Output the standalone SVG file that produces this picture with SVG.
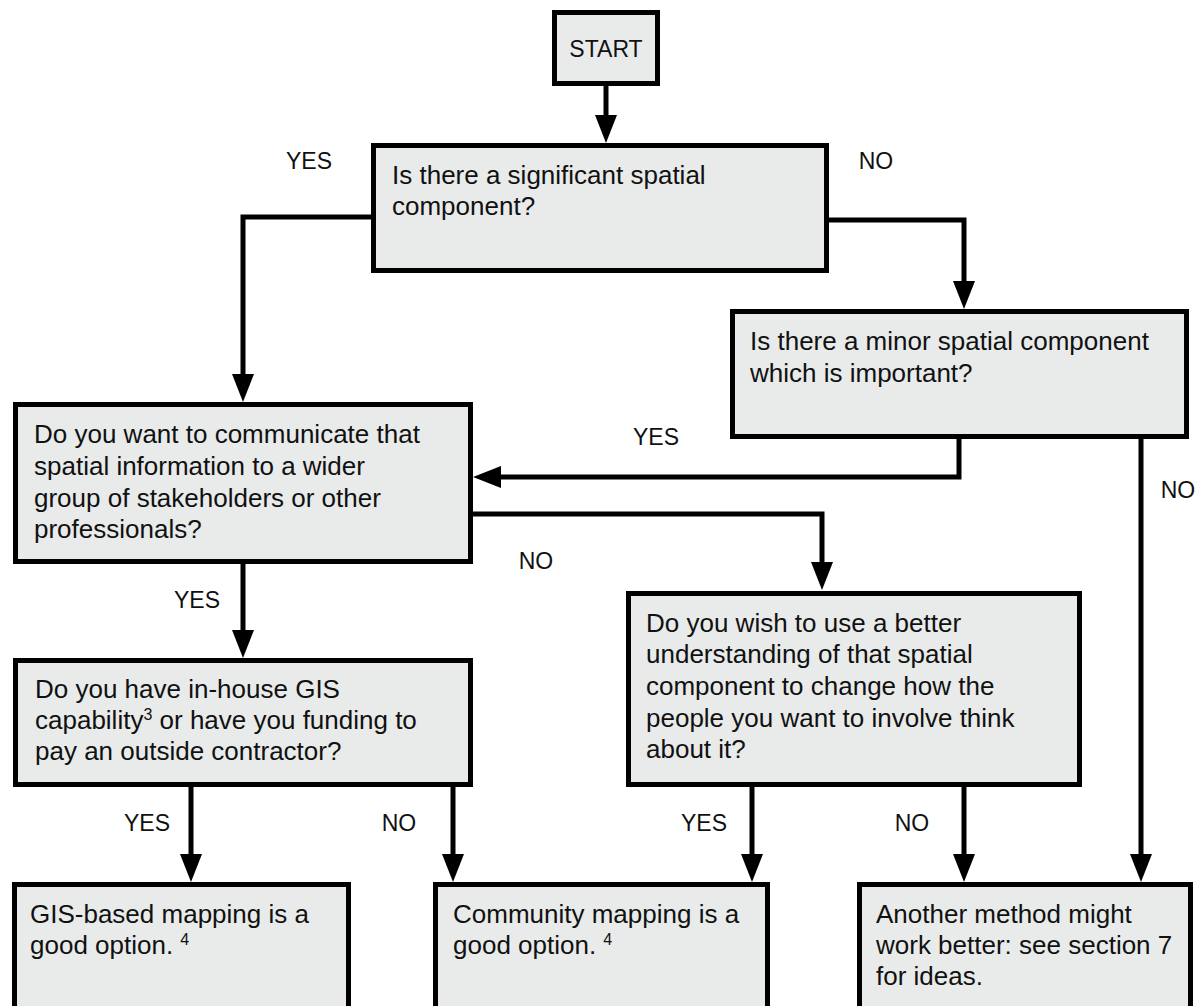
<svg xmlns="http://www.w3.org/2000/svg" width="1200" height="1006" viewBox="0 0 1200 1006">
<defs>
<style>
.box{fill:#E8EBEA;stroke:#000;stroke-width:5}
.t{font-family:"Liberation Sans",Arial,sans-serif;font-size:26px;fill:#111}
.lbl{font-family:"Liberation Sans",Arial,sans-serif;font-size:23px;fill:#111;text-anchor:middle}
.c{fill:none;stroke:#000;stroke-width:5;marker-end:url(#ah)}
.sup{font-size:16px}
</style>
<marker id="ah" markerUnits="userSpaceOnUse" markerWidth="28" markerHeight="22" refX="18" refY="11" orient="auto">
<path d="M0,0 L28,11 L0,22 z" fill="#000"/>
</marker>
</defs>
<rect width="1200" height="1006" fill="#fff"/>
<g id="connectors">
<path class="c" d="M606,86 V133"/>
<path class="c" d="M371,217 H243 V392"/>
<path class="c" d="M829,220 H964 V299"/>
<path class="c" d="M959,439 V477 H483"/>
<path class="c" d="M1141,439 V872"/>
<path class="c" d="M473,514 H822 V580"/>
<path class="c" d="M243,564 V648"/>
<path class="c" d="M191,787 V872"/>
<path class="c" d="M453,787 V872"/>
<path class="c" d="M752,787 V872"/>
<path class="c" d="M964,787 V872"/>
<text class="lbl" x="309" y="169">YES</text>
<text class="lbl" x="876" y="169">NO</text>
<text class="lbl" x="656" y="445">YES</text>
<text class="lbl" x="1178" y="498">NO</text>
<text class="lbl" x="536" y="569">NO</text>
<text class="lbl" x="197" y="608">YES</text>
<text class="lbl" x="147" y="831">YES</text>
<text class="lbl" x="399" y="831">NO</text>
<text class="lbl" x="704" y="831">YES</text>
<text class="lbl" x="912" y="831">NO</text>
</g>
<g id="start">
<rect class="box" x="554.5" y="12.5" width="103" height="71"/>
<text class="lbl" x="606" y="57">START</text>
</g>
<g id="significant">
<rect class="box" x="373.5" y="145.5" width="453" height="125"/>
<text class="t" x="392" y="184">Is there a significant spatial</text>
<text class="t" x="392" y="215">component?</text>
</g>
<g id="minor">
<rect class="box" x="732.5" y="311.5" width="454" height="125"/>
<text class="t" x="750" y="350">Is there a minor spatial component</text>
<text class="t" x="750" y="382">which is important?</text>
</g>
<g id="communicate">
<rect class="box" x="15.5" y="404.5" width="455" height="157"/>
<text class="t" x="34" y="443">Do you want to communicate that</text>
<text class="t" x="34" y="475">spatial information to a wider</text>
<text class="t" x="34" y="507">group of stakeholders or other</text>
<text class="t" x="34" y="538">professionals?</text>
</g>
<g id="gis-capability">
<rect class="box" x="15.5" y="660.5" width="455" height="124"/>
<text class="t" x="35" y="698">Do you have in-house GIS</text>
<text class="t" x="35" y="729">capability<tspan class="sup" dy="-9">3</tspan><tspan dy="9"> or have you funding to</tspan></text>
<text class="t" x="35" y="760">pay an outside contractor?</text>
</g>
<g id="wish">
<rect class="box" x="628.5" y="593.5" width="451" height="191"/>
<text class="t" x="646" y="632">Do you wish to use a better</text>
<text class="t" x="646" y="663">understanding of that spatial</text>
<text class="t" x="646" y="695">component to change how the</text>
<text class="t" x="646" y="727">people you want to involve think</text>
<text class="t" x="646" y="758">about it?</text>
</g>
<g id="gis-mapping">
<rect class="box" x="14.5" y="884.5" width="334" height="140"/>
<text class="t" x="30" y="923">GIS-based mapping is a</text>
<text class="t" x="30" y="954">good option. <tspan class="sup" dy="-9">4</tspan></text>
</g>
<g id="community-mapping">
<rect class="box" x="435.5" y="884.5" width="332" height="140"/>
<text class="t" x="453" y="923">Community mapping is a</text>
<text class="t" x="453" y="954">good option. <tspan class="sup" dy="-9">4</tspan></text>
</g>
<g id="another-method">
<rect class="box" x="859.5" y="884.5" width="331" height="140"/>
<text class="t" x="876" y="923">Another method might</text>
<text class="t" x="876" y="954">work better: see section 7</text>
<text class="t" x="876" y="985">for ideas.</text>
</g>
</svg>
